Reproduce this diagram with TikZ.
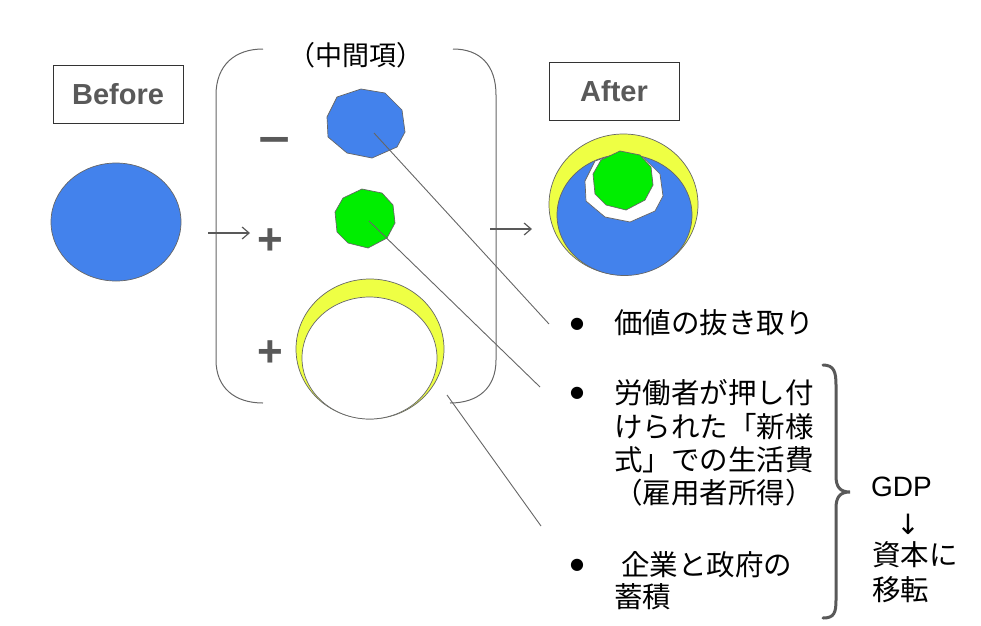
\documentclass[tikz,border=0pt]{standalone}
\usepackage{fontspec}
\setmainfont{Liberation Sans}
\newfontfamily\jpfont{Noto Sans CJK JP}
\newfontfamily\djfont{DejaVu Sans}
\usetikzlibrary{arrows.meta}
\definecolor{myblue}{HTML}{4382EC}
\definecolor{mygreen}{HTML}{00EE00}
\definecolor{myyellow}{HTML}{EEFF44}
\definecolor{lgray}{HTML}{595959}
\definecolor{egray}{HTML}{666666}
\tikzset{
  labelbox/.style={draw=black!80, line width=0.8pt, minimum width=130pt, minimum height=58pt, inner sep=0pt,
    font=\fontsize{29}{30}\selectfont\bfseries, text=lgray},
  shapeline/.style={draw=egray, line width=0.7pt},
  leader/.style={draw=egray, line width=0.9pt},
  flowarrow/.style={draw=lgray, line width=1.2pt, -{Straight Barb[length=7pt,width=12pt,line width=1.2pt]}},
  bracketline/.style={draw=egray, line width=1pt},
  jptext/.style={font=\fontsize{28.5}{33}\selectfont\jpfont, inner sep=0pt, anchor=west},
  sign/.style={font=\fontsize{44}{44}\selectfont\bfseries, text=lgray, inner sep=0pt},
  bulletmark/.style={font=\fontsize{16}{16}\selectfont\djfont, inner sep=0pt},
}
\begin{document}
\begin{tikzpicture}[x=1pt,y=-1pt]
\useasboundingbox (0,0) rectangle (981,625);

% Before
\node[labelbox] (before) at (118,94) {Before};
\draw[shapeline, fill=myblue] (116,222) ellipse [x radius=65, y radius=59];

% After
\node[labelbox] (after) at (614,91) {After};
\draw[shapeline, fill=myyellow] (623.5,204.5) ellipse [x radius=74.5, y radius=70.5];
\draw[shapeline, fill=myblue] (624.5,215) ellipse [x radius=67.5, y radius=60.5];
\begin{scope}[shift={(258,64)}]
\draw[shapeline, fill=white] (361,89) -- (385,93) -- (402,110) -- (405,132) -- (397,147) -- (372,158) -- (347,153) -- (328,137) -- (327,117) -- (337,97) -- cycle;
\end{scope}
\begin{scope}[shift={(258,-38)}]
\draw[shapeline, fill=mygreen] (362,189) -- (382,193) -- (393,205) -- (395,223) -- (387,238) -- (368,248) -- (348,243) -- (337,232) -- (335,212) -- (343,198) -- cycle;
\end{scope}

% middle bracket
\draw[bracketline] (263,49) .. controls (235,49) and (216,65) .. (216,95) -- (216,360) .. controls (216,388) and (235,403) .. (263,403);
\draw[bracketline] (453,49) .. controls (480,49) and (496,65) .. (496,95) -- (496,360) .. controls (496,388) and (478,403) .. (450,403);
\node[font=\fontsize{27}{27}\selectfont\jpfont, inner sep=0pt] (title) at (356,55) {（中間項）};

% signs
\node[sign] (minus) at (275,146) {\scalebox{1.25}[1]{−}};
\node[sign] (plus1) at (270,242) {+};
\node[sign] (plus2) at (270,354) {+};

% middle shapes
\draw[shapeline, fill=myblue] (361,89) -- (385,93) -- (402,110) -- (405,132) -- (397,147) -- (372,158) -- (347,153) -- (328,137) -- (327,117) -- (337,97) -- cycle;
\draw[shapeline, fill=mygreen] (362,189) -- (382,193) -- (393,205) -- (395,223) -- (387,238) -- (368,248) -- (348,243) -- (337,232) -- (335,212) -- (343,198) -- cycle;
\draw[shapeline, fill=myyellow] (370,349) ellipse [x radius=74, y radius=70];
\draw[shapeline, fill=white] (369.5,358) ellipse [x radius=67.5, y radius=61];

% arrows
\coordinate (a1s) at (208,233); \coordinate (a1e) at (250,233);
\coordinate (a2s) at (490,229); \coordinate (a2e) at (532,229);
\draw[flowarrow] (a1s) -- (a1e);
\draw[flowarrow] (a2s) -- (a2e);

% leader lines
\coordinate (bluec) at (374,133); \coordinate (bluee) at (549,324);
\coordinate (greenc) at (369,221); \coordinate (greene) at (540,387);
\coordinate (yellc) at (447,395); \coordinate (yelle) at (541,526);
\draw[leader] (bluec) -- (bluee);
\draw[leader] (greenc) -- (greene);
\draw[leader] (yellc) -- (yelle);

% bullets and text
\node[bulletmark] (b1) at (577,324) {●};
\node[bulletmark] (b2) at (577,393) {●};
\node[bulletmark] (b3) at (577,565) {●};
\node[jptext] (t1) at (614,323) {価値の抜き取り};
\node[jptext] (t2a) at (614,393) {労働者が押し付};
\node[jptext] (t2b) at (614,427) {けられた「新様};
\node[jptext] (t2c) at (614,460) {式」での生活費};
\node[jptext] (t2d) at (614,493) {（雇用者所得）};
\node[jptext] (t3a) at (621,565) {企業と政府の};
\node[jptext] (t3b) at (614,597) {蓄積};

% brace
\draw[draw=lgray, line width=3pt, line cap=round] (823,365) .. controls (834,365) and (836,372) .. (836,385) -- (836,476) .. controls (836,487) and (840,492) .. (850,492) .. controls (840,492) and (836,497) .. (836,508) -- (836,600) .. controls (836,613) and (834,618) .. (823,618);

% GDP
\node[font=\fontsize{28}{28}\selectfont, inner sep=0pt, anchor=west] (gdp) at (871,487) {GDP};
\node[font=\fontsize{28}{28}\selectfont\djfont, inner sep=0pt] (darrow) at (908,524) {↓};
\node[jptext] (t4a) at (872,555) {資本に};
\node[jptext] (t4b) at (872,590) {移転};
\end{tikzpicture}
\end{document}
